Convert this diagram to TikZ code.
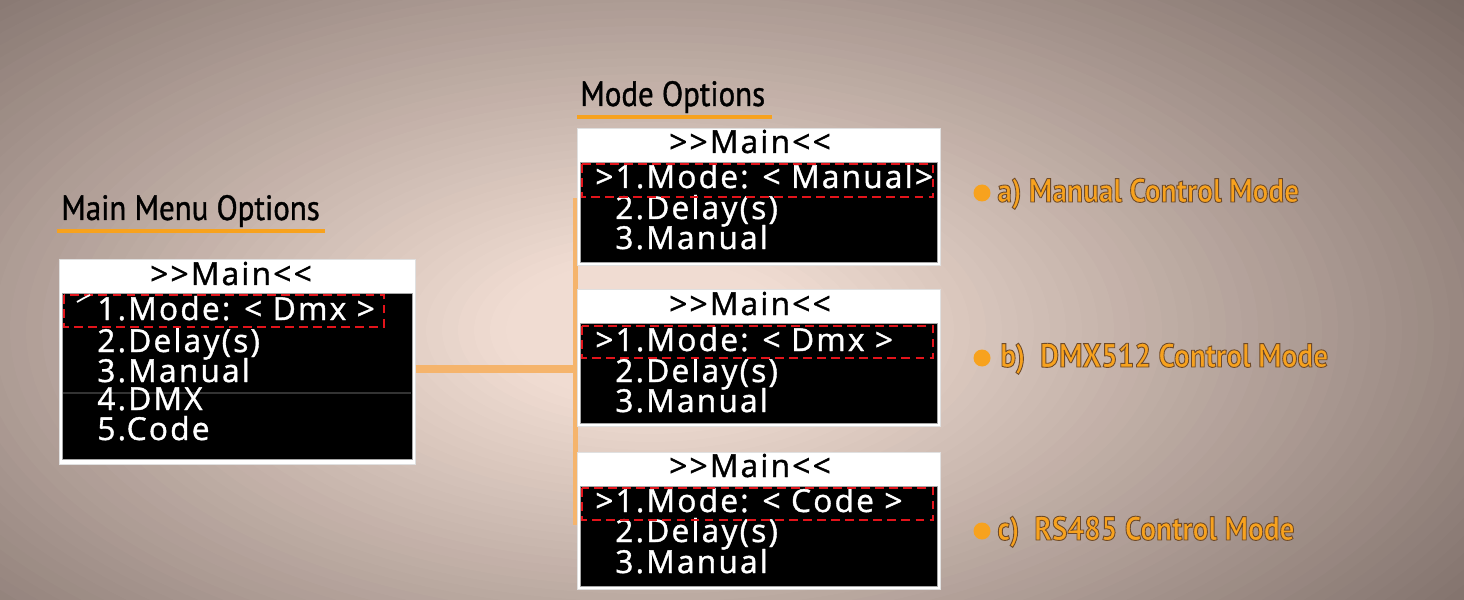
\documentclass[tikz,border=0pt]{standalone}
\usepackage{fontspec}
\setmainfont{PT Sans}
\newfontfamily\lcdfont[LetterSpace=7, FakeBold=1.2]{Open Sans}
\newfontfamily\headfont[FakeStretch=0.88, FakeBold=1.0]{PT Sans}
\newfontfamily\labelfont[FakeStretch=0.88]{PT Sans}
\usetikzlibrary{positioning}

\definecolor{bgin}{HTML}{F0DCD2}
\definecolor{bgout}{HTML}{7A6B65}
\definecolor{accent}{HTML}{F7A21E}
\definecolor{barorange}{HTML}{F5B46C}
\definecolor{selred}{HTML}{E3141B}

\tikzset{
  title/.style={font=\headfont\fontsize{20}{22}\selectfont, anchor=base west, inner sep=0pt},
  lcd/.style={font=\lcdfont\fontsize{18}{20}\selectfont, text=white, anchor=base west, inner sep=0pt},
  lcdhead/.style={lcd, text=black, anchor=base},
  frame/.style={fill=white, draw=black!12, line width=0.4pt, inner sep=0pt, anchor=north west},
  screen/.style={fill=black, draw=black!35, line width=0.4pt, inner sep=0pt, anchor=north west},
  selbox/.style={draw=selred, line width=1.4pt, dash pattern=on 5pt off 3pt},
  uline/.style={draw=accent, line width=2.3pt},
  bar/.style={draw=barorange},
  modelabel/.style={font=\labelfont\bfseries\fontsize{19}{21}\selectfont, text=accent, anchor=base west, inner sep=0pt},
  dot/.style={circle, fill=accent, inner sep=0pt, minimum size=3.4mm}
}

% filled glyphs with a thin brown rim
\newcommand\rimtext[1]{\special{pdf:literal direct 0.43 0.29 0.16 RG 0.5 w 2 Tr}#1\special{pdf:literal direct 0 Tr}}

\begin{document}
\begin{tikzpicture}[x=0.2mm,y=-0.2mm]
    \useasboundingbox (0,0) rectangle (1464,600);
    % background glow
    \begin{scope}
      \clip (0,0) rectangle (1464,600);
      \fill[bgout] (0,0) rectangle (1464,600);
      \foreach \i in {70,69,...,1}{
        \pgfmathsetmacro\r{\i*16}
        \pgfmathsetmacro\p{max(0,min(100,(\r-150)/9))}
        \fill[bgout!\p!bgin] (650,330) ellipse ({\r} and {\r*0.5});
      }
    \end{scope}

    % titles
    \node[title] (maintitle) at (61,220) {Main Menu Options};
    \draw[uline] (57,231) -- (325,231);
    \node[title] (modetitle) at (580,106) {Mode Options};
    \draw[uline] (577,117) -- (772,117);

    % vertical bus
    \coordinate (bustop) at (575,198);
    \coordinate (busend) at (575,525);
    \coordinate (hub) at (575,369);
    \draw[bar, line width=1mm] (bustop) -- (busend);

    % main menu screen
    \node[frame, minimum width=71.2mm, minimum height=41mm] (mainbox) at (59,259) {};
    \node[screen, minimum width=70mm, minimum height=33.2mm] (mainscreen) at (62,293) {};
    \draw[black!80, line width=0.6pt] (63,393) -- (411,393);
    \node[lcdhead] (mainhead) at (231,285) {>>Main<<};
    \node[lcd] (mainl1) at (97,320) {1.Mode: < Dmx >};
    \node[lcd] (mainl2) at (97,352) {2.Delay(s)};
    \node[lcd] (mainl3) at (97,382) {3.Manual};
    \node[lcd] (mainl4) at (97,410) {4.DMX};
    \node[lcd] (mainl5) at (97,440) {5.Code};
    \draw[selbox] (64,295) rectangle (384,327);
    \draw[white, line width=1pt] (77,302) -- (84,298) -- (90,295);

    \draw[bar, line width=1.6mm] (mainbox.east |- hub) -- (hub);

    % mode a
    \node[frame, minimum width=72.6mm, minimum height=27.4mm] (boxa) at (577,128) {};
    \node[screen, minimum width=71.4mm, minimum height=20mm] (screena) at (580,162) {};
    \node[lcdhead] (heada) at (750,153) {>>Main<<};
    \node[lcd] (a1) at (595,188) {>1.Mode: < Manual>};
    \node[lcd] (a2) at (615,219) {2.Delay(s)};
    \node[lcd] (a3) at (615,249) {3.Manual};
    \draw[selbox] (582,164) rectangle (933,197);

    % mode b
    \node[frame, minimum width=72.6mm, minimum height=27.4mm] (boxb) at (577,289) {};
    \node[screen, minimum width=71.4mm, minimum height=20mm] (screenb) at (580,323) {};
    \node[lcdhead] (headb) at (750,315) {>>Main<<};
    \node[lcd] (b1) at (595,351) {>1.Mode: < Dmx >};
    \node[lcd] (b2) at (615,382) {2.Delay(s)};
    \node[lcd] (b3) at (615,412) {3.Manual};
    \draw[selbox] (582,326) rectangle (933,358);

    % mode c
    \node[frame, minimum width=72.6mm, minimum height=27.4mm] (boxc) at (577,452) {};
    \node[screen, minimum width=71.4mm, minimum height=20mm] (screenc) at (580,486) {};
    \node[lcdhead] (headc) at (750,477) {>>Main<<};
    \node[lcd] (c1) at (595,512) {>1.Mode: < Code >};
    \node[lcd] (c2) at (615,542) {2.Delay(s)};
    \node[lcd] (c3) at (615,573) {3.Manual};
    \draw[selbox] (582,488) rectangle (933,520);

    % mode names
    \node[dot] (dota) at (982,193) {};
    \node[dot] (dotb) at (982,358) {};
    \node[dot] (dotc) at (982,531) {};
    \node[modelabel] (labela) at (997,202) {\rimtext{a) Manual Control Mode}};
    \node[modelabel] (labelb) at (1000,367) {\rimtext{b)\ \ DMX512 Control Mode}};
    \node[modelabel] (labelc) at (997,540) {\rimtext{c)\ \ RS485 Control Mode}};
\end{tikzpicture}
\end{document}
